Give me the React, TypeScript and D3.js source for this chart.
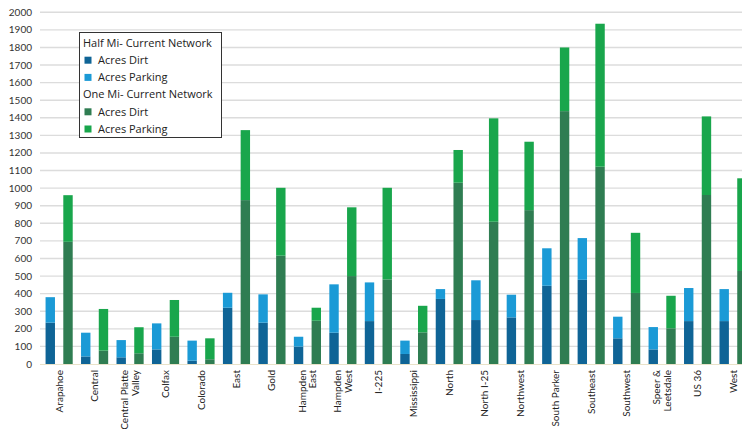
import React from "react";
import * as d3 from "d3";

const categories: string[][] = [
  ["Arapahoe"], ["Central"], ["Central Platte", "Valley"], ["Colfax"], ["Colorado"],
  ["East"], ["Gold"], ["Hampden", "East"], ["Hampden", "West"], ["I-225"],
  ["Mississippi"], ["North"], ["North I-25"], ["Northwest"], ["South Parker"],
  ["Southeast"], ["Southwest"], ["Speer &", "Leetsdale"], ["US 36"], ["West"],
];

const halfDirt = [235, 43, 38, 83, 19, 320, 235, 99, 178, 244, 57, 370, 250, 265, 445, 479, 146, 83, 244, 244];
const halfParking = [145, 135, 98, 148, 114, 85, 161, 56, 275, 220, 76, 56, 226, 129, 213, 237, 123, 127, 188, 182];
const oneDirt = [695, 76, 61, 155, 27, 932, 616, 246, 500, 481, 180, 1031, 809, 875, 1438, 1122, 404, 203, 961, 529];
const oneParking = [265, 237, 148, 209, 119, 398, 386, 74, 391, 521, 151, 186, 588, 389, 362, 813, 342, 185, 447, 527];

const yTicks = d3.range(0, 2001, 100);

const colors = {
  halfDirt: "#0f6496",
  halfParking: "#1b9ad6",
  oneDirt: "#2f7d52",
  oneParking: "#19a64c",
};

const FONT = "'Open Sans', 'Noto Sans', sans-serif";
const LABEL_FONT = "Lato, 'Open Sans', sans-serif";

export default function App() {
  const W = 742;
  const H = 429;
  const x = d3.scaleBand<number>().domain(d3.range(categories.length)).range([41.4, 750.8]).padding(0);
  const inner = d3.scaleBand<string>().domain(["half", "one"]).range([0, x.bandwidth()]).paddingInner(0.47).paddingOuter(0.235);
  const y = d3.scaleLinear().domain([0, 2000]).range([364, 12.3]);

  const stacks = [
    { key: "half", dirt: halfDirt, park: halfParking, cd: colors.halfDirt, cp: colors.halfParking },
    { key: "one", dirt: oneDirt, park: oneParking, cd: colors.oneDirt, cp: colors.oneParking },
  ];

  const legendRows = [
    { text: "Half Mi- Current Network", color: null },
    { text: "Acres Dirt", color: colors.halfDirt },
    { text: "Acres Parking", color: colors.halfParking },
    { text: "One Mi- Current Network", color: null },
    { text: "Acres Dirt", color: colors.oneDirt },
    { text: "Acres Parking", color: colors.oneParking },
  ];

  return (
    <div style={{ position: "fixed", left: 0, top: 0, width: W, height: H, overflow: "hidden", background: "#fff" }}>
      <svg width={W} height={H} style={{ display: "block", fontFamily: FONT }}>
        <rect width={W} height={H} fill="#fff" />
        {yTicks.map((t) => (
          <g key={t}>
            {t > 0 && <line x1={40} x2={W} y1={y(t)} y2={y(t)} stroke="#dcdcdc" strokeWidth={1.4} />}
            <text x={32} y={y(t)} dy="0.35em" textAnchor="end" fontSize={10} fontFamily={LABEL_FONT} fill="#333">{t}</text>
          </g>
        ))}
        <line x1={40} x2={W} y1={y(0) + 0.5} y2={y(0) + 0.5} stroke="#e9e2c9" strokeWidth={1.2} />
        {stacks.map((s) =>
          categories.map((_, i) => {
            const bx = (x(i) as number) + (inner(s.key) as number);
            const bw = inner.bandwidth();
            const d = s.dirt[i];
            const p = s.park[i];
            return (
              <g key={s.key + i}>
                <rect x={bx} width={bw} y={y(d)} height={y(0) - y(d)} fill={s.cd} />
                <rect x={bx} width={bw} y={y(d + p)} height={y(d) - y(d + p)} fill={s.cp} />
              </g>
            );
          })
        )}
        {categories.map((lines, i) => {
          const cx = (x(i) as number) + x.bandwidth() / 2;
          const n = lines.length;
          return (
            <g key={"lab" + i}>
              {lines.map((ln, j) => {
                const off = (j - (n - 1) / 2) * 10.5;
                return (
                  <text
                    key={j}
                    transform={`translate(${cx + off},370) rotate(-90)`}
                    textAnchor="end"
                    dy="0.35em"
                    fontSize={10}
                    fontFamily={LABEL_FONT}
                    fill="#222"
                  >
                    {ln}
                  </text>
                );
              })}
            </g>
          );
        })}
        <g>
          <rect x={79.5} y={32.5} width={142} height={105} fill="#fff" stroke="#333" strokeWidth={1} />
          {legendRows.map((r, i) => {
            const cy = 43 + i * 17.2;
            return (
              <g key={"lg" + i}>
                {r.color && <rect x={84.5} y={cy - 3.5} width={7} height={7} fill={r.color} />}
                <text x={r.color ? 98 : 83} y={cy} dy="0.35em" fontSize={11} fill="#222">{r.text}</text>
              </g>
            );
          })}
        </g>
      </svg>
    </div>
  );
}
